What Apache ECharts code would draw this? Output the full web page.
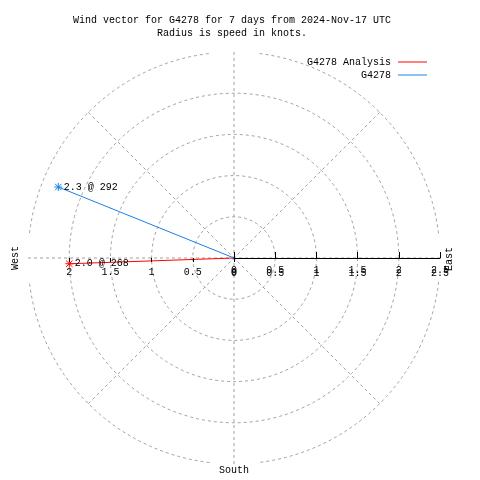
<!DOCTYPE html>
<html>
<head>
<meta charset="utf-8">
<script src="https://cdn.jsdelivr.net/npm/echarts@6/dist/echarts.min.js"></script>
<style>html,body{margin:0;padding:0;background:#fff}#c{width:480px;height:480px}</style>
</head>
<body>
<div id="c"></div>
<script>
// ---- data ----
const titleLines = ['Wind vector for G4278 for 7 days from 2024-Nov-17 UTC', 'Radius is speed in knots.'];
const seriesNames = ['G4278 Analysis', 'G4278'];
const speeds = [2.0, 2.3];        // knots
const directions = [268, 292];    // degrees
const radiusMax = 2.5;
const radiusStep = 0.5;
const leftTickValues = [0, 0.5, 1, 1.5, 2];
const compassLabels = ['West', 'East', 'South'];

// ---- style ----
const FONT = 'Liberation Mono';
const colors = ['#ff0000', '#1a80e6'];
const GRID = '#a0a0a0';
const cx = 234, cy = 258, R = 206;

const chart = echarts.init(document.getElementById('c'), null, {renderer: 'canvas'});

const star = 'path://M0,-5L0,5M-5,0L5,0M-4,-4L4,4M-4,4L4,-4';

const series = seriesNames.map((name, i) => ({
  name: name,
  type: 'line',
  coordinateSystem: 'polar',
  polarIndex: 0,
  z: 5,
  data: [
    {value: [0, directions[i]], symbol: 'none'},
    {value: [speeds[i], directions[i]],
     label: {show: true, position: 'right', distance: 1,
       formatter: speeds[i].toFixed(1) + ' @ ' + directions[i],
       fontFamily: FONT, fontSize: 10, color: '#000'}}
  ],
  symbol: star,
  symbolSize: 8,
  showSymbol: true,
  itemStyle: {color: colors[i], borderColor: colors[i], borderWidth: 1},
  lineStyle: {color: colors[i], width: 1},
  animation: false
}));

const axisCommon = {
  type: 'value', min: 0, max: radiusMax, interval: radiusStep, z: 6,
  splitLine: {show: false}
};

const legendCommon = {
  right: 48, align: 'right', icon: 'rect', itemWidth: 29, itemHeight: 1, itemGap: 0,
  itemStyle: {borderWidth: 0},
  textStyle: {fontFamily: FONT, fontSize: 10, color: '#000', padding: [0, 2, 0, 0]}
};

const option = {
  animation: false,
  graphic: [
    {type: 'text', x: 232, y: 20, z: 10, style: {text: titleLines[0], font: '10px ' + FONT, fill: '#000', textAlign: 'center', textVerticalAlign: 'middle'}},
    {type: 'text', x: 232, y: 33, z: 10, style: {text: titleLines[1], font: '10px ' + FONT, fill: '#000', textAlign: 'center', textVerticalAlign: 'middle'}},
    // gaps in the outer ring
    {type: 'rect', z: 1, shape: {x: cx - 24, y: cy - R - 6, width: 48, height: 12}, style: {fill: '#fff'}},
    {type: 'rect', z: 1, shape: {x: cx - 24, y: cy + R - 6, width: 48, height: 12}, style: {fill: '#fff'}},
    {type: 'rect', z: 1, shape: {x: cx - R - 6, y: cy - 24, width: 12, height: 48}, style: {fill: '#fff'}},
    {type: 'rect', z: 1, shape: {x: cx + R - 6, y: cy - 24, width: 12, height: 48}, style: {fill: '#fff'}},
    {type: 'text', x: 15, y: 258, rotation: Math.PI / 2, z: 10, style: {text: compassLabels[0], font: '10px ' + FONT, fill: '#000', textAlign: 'center', textVerticalAlign: 'middle'}},
    {type: 'text', x: 449, y: 259, rotation: Math.PI / 2, z: 10, style: {text: compassLabels[1], font: '10px ' + FONT, fill: '#000', textAlign: 'center', textVerticalAlign: 'middle'}},
    {type: 'text', x: 234, y: 470, z: 10, style: {text: compassLabels[2], font: '10px ' + FONT, fill: '#000', textAlign: 'center', textVerticalAlign: 'middle'}}
  ],
  legend: [
    Object.assign({}, legendCommon, {data: [seriesNames[0]], top: 52}),
    Object.assign({}, legendCommon, {data: [seriesNames[1]], top: 65})
  ],
  polar: [{center: [cx, cy], radius: R}],
  angleAxis: {
    type: 'value', polarIndex: 0, min: 0, max: 360, interval: 45, startAngle: 90, clockwise: true, z: 2,
    axisLine: {show: false}, axisTick: {show: false}, axisLabel: {show: false},
    splitLine: {show: true, lineStyle: {color: GRID, width: 1, type: [3, 3]}}
  },
  radiusAxis: {
    type: 'value', polarIndex: 0, min: 0, max: radiusMax, interval: radiusStep, z: 0,
    axisLine: {show: false}, axisTick: {show: false}, axisLabel: {show: false},
    splitLine: {show: true, lineStyle: {color: GRID, width: 1, type: [3, 3]}}
  },
  grid: [
    {left: cx, width: R, top: cy - 8, height: 8},
    {left: cx - R, width: R, top: cy - 8, height: 8}
  ],
  xAxis: [
    Object.assign({}, axisCommon, {gridIndex: 0, position: 'bottom',
      axisLine: {show: true, lineStyle: {color: '#000', width: 1}},
      axisTick: {show: true, inside: true, length: 6, lineStyle: {color: '#000'}},
      axisLabel: {show: true, margin: 7, fontFamily: FONT, fontSize: 10, color: '#000', showMinLabel: true, showMaxLabel: true}}),
    Object.assign({}, axisCommon, {gridIndex: 0, position: 'bottom',
      axisLine: {show: false}, axisTick: {show: false},
      axisLabel: {show: true, margin: 10, fontFamily: FONT, fontSize: 10, color: '#000', showMinLabel: true, showMaxLabel: true}}),
    Object.assign({}, axisCommon, {gridIndex: 1, position: 'bottom', inverse: true,
      axisLine: {show: false},
      axisTick: {show: true, inside: false, length: 4, lineStyle: {color: '#000'}, customValues: leftTickValues},
      axisLabel: {show: true, margin: 9, fontFamily: FONT, fontSize: 10, color: '#000', customValues: leftTickValues}})
  ],
  yAxis: [
    {type: 'value', gridIndex: 0, show: false},
    {type: 'value', gridIndex: 1, show: false}
  ],
  series: series
};
chart.setOption(option);
</script>
</body>
</html>
